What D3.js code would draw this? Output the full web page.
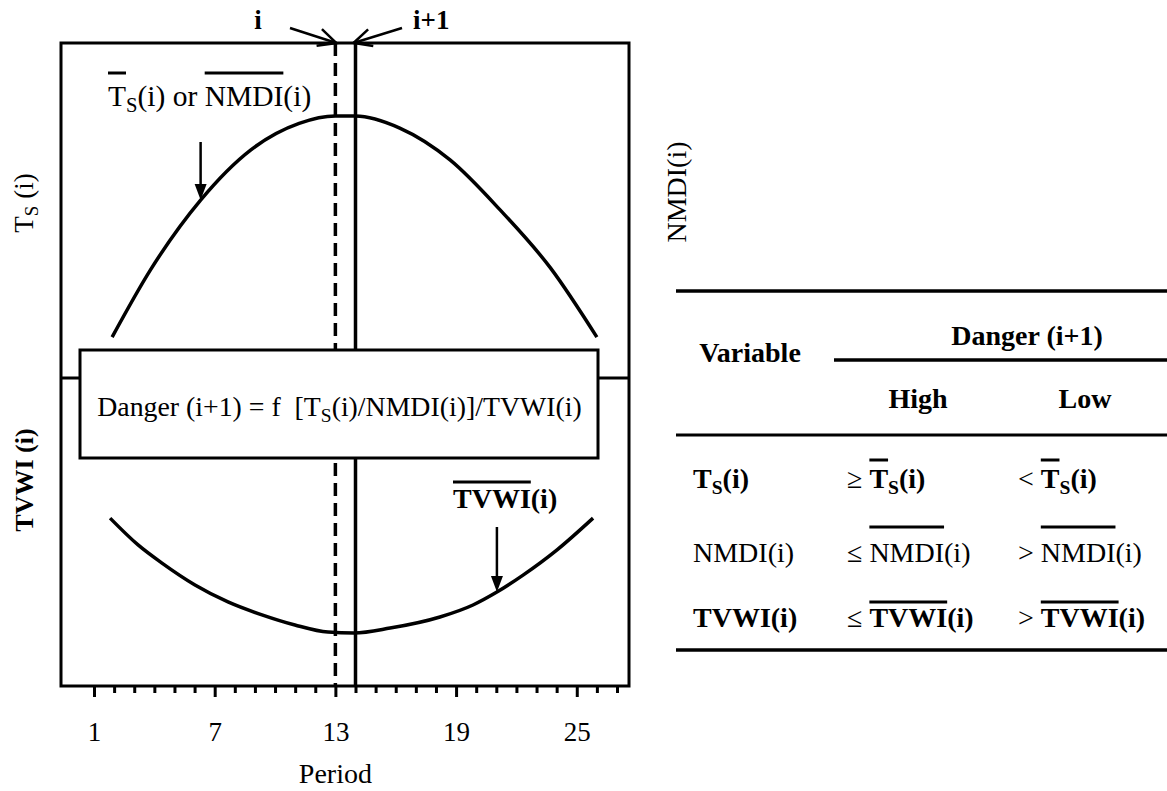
<!DOCTYPE html>
<html><head><meta charset="utf-8">
<script src="https://cdn.jsdelivr.net/npm/d3@7"></script>
<style>
body{margin:0;background:#fff}
svg{display:block}
text{font-family:"Liberation Serif","Times New Roman",serif;white-space:pre;fill:#000}
</style>
</head><body><svg id="c" width="1167" height="791"></svg>
<script>
// ---------- data ----------
const periods = d3.range(1, 28);
const majorTicks = [1, 7, 13, 19, 25];
const tsPeriods = [1.9, 3.8, 6.3, 8.8, 11.2, 13, 14, 16.2, 18.7, 21.2, 23.7, 26.0];
const tsValues  = [1.22, 3.22, 5.31, 6.81, 7.6, 7.82, 7.82, 7.46, 6.51, 5.01, 3.28, 1.22];
const tvwiPeriods = [1.8, 3.19, 4.38, 6.02, 7.66, 9.35, 10.99, 12.63, 13.93, 15.72, 18.2, 19.84, 21.03, 22.33, 24.02, 25.81];
const tvwiValues  = [5.45, 4.58, 3.99, 3.28, 2.73, 2.31, 1.98, 1.75, 1.72, 1.88, 2.24, 2.63, 3.05, 3.60, 4.42, 5.45];
const periodI = 13, periodI1 = 14;
const tsArrowIndex = 2, tvwiArrowIndex = 12;
const tableHeader = ["Variable", "Danger (i+1)", "High", "Low"];
const highOps = ["\u2265 ", "\u2264 ", "\u2264 "];
const lowOps = ["< ", "> ", "> "];

// ---------- setup ----------
const svg = d3.select("#c");
const frame = {l: 61, r: 629, t: 43, b: 686};
const midY = 378;
const x = d3.scaleLinear().domain([1, 27]).range([94, 617]);
const yTop = d3.scaleLinear().domain([0, 10]).range([midY, frame.t]);
const yBot = d3.scaleLinear().domain([0, 10]).range([frame.b, midY]);

function rich(g, px, py, parts, o = {}) {
  const fs = o.size || 27;
  const t = g.append("text").attr("x", px).attr("y", py).attr("font-size", fs)
    .attr("text-anchor", o.anchor || "start");
  if (o.bold) t.attr("font-weight", "bold");
  let shifted = false;
  parts.forEach(p => {
    const s = t.append("tspan").text(p.t);
    if (p.b) s.attr("font-weight", "bold");
    if (p.n) s.attr("font-weight", "normal");
    if (p.sub) { s.attr("font-size", fs * 0.7).attr("dy", fs * 0.2); shifted = true; }
    else if (shifted) { s.attr("dy", -fs * 0.2); shifted = false; }
  });
  if (o.over) {
    const node = t.node();
    let idx = 0;
    parts.forEach(p => {
      if (p.over) {
        const a = node.getExtentOfChar(idx);
        const b = node.getExtentOfChar(idx + p.t.length - 1);
        g.append("line").attr("x1", a.x).attr("x2", b.x + b.width)
          .attr("y1", py - o.over).attr("y2", py - o.over)
          .attr("stroke", "#000").attr("stroke-width", 3);
      }
      idx += p.t.length;
    });
  }
  return t;
}

// ---------- chart ----------
const chart = svg.append("g");
chart.append("line").attr("x1", frame.l).attr("x2", frame.r).attr("y1", midY).attr("y2", midY)
  .attr("stroke", "#000").attr("stroke-width", 3);

const lineTs = d3.line().x((d, i) => x(tsPeriods[i])).y(d => yTop(d)).curve(d3.curveMonotoneX);
const lineTv = d3.line().x((d, i) => x(tvwiPeriods[i])).y(d => yBot(d)).curve(d3.curveMonotoneX);
chart.append("path").attr("d", lineTs(tsValues)).attr("fill", "none").attr("stroke", "#000").attr("stroke-width", 3.5);
chart.append("path").attr("d", lineTv(tvwiValues)).attr("fill", "none").attr("stroke", "#000").attr("stroke-width", 3.5);

chart.append("line").attr("x1", x(periodI)).attr("x2", x(periodI)).attr("y1", frame.t).attr("y2", frame.b)
  .attr("stroke", "#000").attr("stroke-width", 3.5).attr("stroke-dasharray", "13,7");
chart.append("line").attr("x1", x(periodI1)).attr("x2", x(periodI1)).attr("y1", frame.t).attr("y2", frame.b)
  .attr("stroke", "#000").attr("stroke-width", 3.5);

chart.append("rect").attr("x", frame.l).attr("y", frame.t).attr("width", frame.r - frame.l)
  .attr("height", frame.b - frame.t).attr("fill", "none").attr("stroke", "#000").attr("stroke-width", 3);

// formula box
chart.append("rect").attr("x", 80).attr("y", 350).attr("width", 518).attr("height", 108)
  .attr("fill", "#fff").attr("stroke", "#000").attr("stroke-width", 3);
rich(chart, 339.5, 416, [{t: "Danger (i+1) = f  [T"}, {t: "S", sub: true}, {t: "(i)/NMDI(i)]/TVWI(i)"}], {anchor: "middle", size: 27.8});

// annotations
rich(chart, 108, 106, [{t: "T", over: true}, {t: "S", sub: true}, {t: "(i) or "}, {t: "NMDI", over: true}, {t: "(i)"}], {over: 33, size: 29.5});
rich(chart, 453, 508, [{t: "TVWI", over: true}, {t: "(i)"}], {over: 26, bold: true, size: 28});

function vArrow(px, y0, y1) {
  chart.append("line").attr("x1", px).attr("x2", px).attr("y1", y0).attr("y2", y1 - 14)
    .attr("stroke", "#000").attr("stroke-width", 2.5);
  chart.append("path").attr("d", `M${px - 6},${y1 - 16}L${px + 6},${y1 - 16}L${px},${y1}Z`).attr("fill", "#000");
}
vArrow(x(tsPeriods[tsArrowIndex]), 142, yTop(tsValues[tsArrowIndex]));
vArrow(x(tvwiPeriods[tvwiArrowIndex]), 527, yBot(tvwiValues[tvwiArrowIndex]));

function openArrow(x0, y0, x1, y1) {
  const ang = Math.atan2(y1 - y0, x1 - x0), L = 20, a = 0.45;
  chart.append("line").attr("x1", x0).attr("y1", y0).attr("x2", x1).attr("y2", y1)
    .attr("stroke", "#000").attr("stroke-width", 2.5);
  chart.append("path").attr("d", `M${x1 - L * Math.cos(ang - a)},${y1 - L * Math.sin(ang - a)}L${x1},${y1}L${x1 - L * Math.cos(ang + a)},${y1 - L * Math.sin(ang + a)}`)
    .attr("fill", "none").attr("stroke", "#000").attr("stroke-width", 2.5);
}
openArrow(290, 28, x(periodI) + 1, frame.t);
openArrow(402, 28, x(periodI1) - 2, frame.t);
rich(chart, 258, 29, [{t: "i"}], {anchor: "middle", bold: true});
rich(chart, 413, 29, [{t: "i+1"}], {bold: true});

// axis
const axis = d3.axisBottom(x).tickValues(periods).tickSizeOuter(0)
  .tickFormat(d => majorTicks.includes(d) ? d : "");
const ax = chart.append("g").attr("transform", `translate(0,${frame.b})`).call(axis);
ax.select(".domain").remove();
ax.selectAll(".tick line").attr("stroke-width", 3).attr("y2", d => majorTicks.includes(d) ? 11 : 7);
ax.selectAll(".tick text").attr("y", 55).attr("dy", null).attr("font-size", 27)
  .style("font-family", '"Liberation Serif","Times New Roman",serif');
rich(chart, x(13), 783, [{t: "Period"}], {anchor: "middle", size: 28});

// y labels
const gl1 = chart.append("g").attr("transform", "translate(33,203) rotate(-90)");
rich(gl1, 0, 0, [{t: "T"}, {t: "S", sub: true}, {t: " (i)"}], {anchor: "middle"});
const gl2 = chart.append("g").attr("transform", "translate(33,480) rotate(-90)");
rich(gl2, 0, 0, [{t: "TVWI (i)"}], {anchor: "middle", bold: true, size: 26});
const gr = chart.append("g").attr("transform", "translate(686,192) rotate(-90)");
rich(gr, 0, 0, [{t: "NMDI(i)"}], {anchor: "middle", size: 28});

// ---------- table ----------
const tb = svg.append("g");
const rule = (x1, y, w) => tb.append("line").attr("x1", x1).attr("x2", 1167).attr("y1", y).attr("y2", y)
  .attr("stroke", "#000").attr("stroke-width", w);
rule(676, 291, 3.5); rule(834, 360, 3.5); rule(676, 435, 3); rule(676, 650, 3.5);
const ts = 28;
rich(tb, 750, 362, [{t: tableHeader[0]}], {anchor: "middle", bold: true, size: ts});
rich(tb, 1027, 345, [{t: tableHeader[1]}], {anchor: "middle", bold: true, size: ts});
rich(tb, 918, 408, [{t: tableHeader[2]}], {anchor: "middle", bold: true, size: ts});
rich(tb, 1085, 408, [{t: tableHeader[3]}], {anchor: "middle", bold: true, size: ts});

const varParts = [
  () => [{t: "T", b: true, over: true}, {t: "S", sub: true, b: true}, {t: "(i)", b: true}],
  () => [{t: "NMDI", over: true}, {t: "(i)"}],
  () => [{t: "TVWI", b: true, over: true}, {t: "(i)", b: true}]
];
const rowY = [488, 562, 627];
const overOff = [28, 35, 25];
rowY.forEach((ry, i) => {
  rich(tb, 693, ry, varParts[i]().map(p => ({...p, over: false})), {size: ts});
  rich(tb, 847, ry, [{t: highOps[i], n: true}, ...varParts[i]()], {size: ts, over: overOff[i]});
  rich(tb, 1018, ry, [{t: lowOps[i], n: true}, ...varParts[i]()], {size: ts, over: overOff[i]});
});
</script>
</body></html>
